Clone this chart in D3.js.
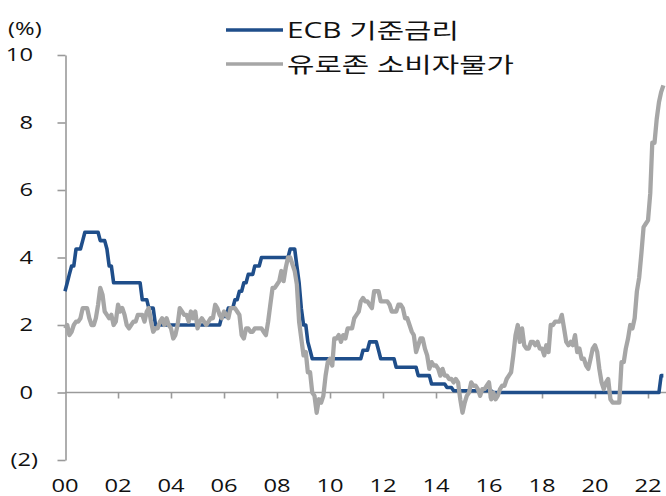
<!DOCTYPE html>
<html>
<head>
<meta charset="utf-8">
<script src="https://cdn.jsdelivr.net/npm/d3@7"></script>
<style>
  body { margin: 0; background: #fff; }
  text { font-family: "Open Sans", "Noto Sans CJK KR", sans-serif; fill: #111; }
</style>
</head>
<body>
<svg id="chart" width="666" height="496"></svg>
<script>
// monthly data, Jan 2000 - Aug 2022
const ecbRate = [
  3.0,3.25,3.5,3.75,3.75,4.25,4.25,4.25,4.5,4.75,4.75,4.75,
  4.75,4.75,4.75,4.75,4.5,4.5,4.5,4.25,3.75,3.75,3.25,3.25,
  3.25,3.25,3.25,3.25,3.25,3.25,3.25,3.25,3.25,3.25,3.25,2.75,
  2.75,2.75,2.5,2.5,2.5,2.0,2.0,2.0,2.0,2.0,2.0,2.0,
  2.0,2.0,2.0,2.0,2.0,2.0,2.0,2.0,2.0,2.0,2.0,2.0,
  2.0,2.0,2.0,2.0,2.0,2.0,2.0,2.0,2.0,2.0,2.0,2.25,
  2.25,2.25,2.5,2.5,2.5,2.75,2.75,3.0,3.0,3.25,3.25,3.5,
  3.5,3.5,3.75,3.75,3.75,4.0,4.0,4.0,4.0,4.0,4.0,4.0,
  4.0,4.0,4.0,4.0,4.0,4.0,4.25,4.25,4.25,3.75,3.25,2.5,
  2.0,2.0,1.5,1.25,1.0,1.0,1.0,1.0,1.0,1.0,1.0,1.0,
  1.0,1.0,1.0,1.0,1.0,1.0,1.0,1.0,1.0,1.0,1.0,1.0,
  1.0,1.0,1.0,1.25,1.25,1.25,1.5,1.5,1.5,1.5,1.25,1.0,
  1.0,1.0,1.0,1.0,1.0,1.0,0.75,0.75,0.75,0.75,0.75,0.75,
  0.75,0.75,0.75,0.75,0.5,0.5,0.5,0.5,0.5,0.5,0.25,0.25,
  0.25,0.25,0.25,0.25,0.25,0.15,0.15,0.15,0.05,0.05,0.05,0.05,
  0.05,0.05,0.05,0.05,0.05,0.05,0.05,0.05,0.05,0.05,0.05,0.05,
  0.05,0.05,0,0,0,0,0,0,0,0,0,0,
  0,0,0,0,0,0,0,0,0,0,0,0,
  0,0,0,0,0,0,0,0,0,0,0,0,
  0,0,0,0,0,0,0,0,0,0,0,0,
  0,0,0,0,0,0,0,0,0,0,0,0,
  0,0,0,0,0,0,0,0,0,0,0,0,
  0,0,0,0,0,0,0.5,0.5
];

const euroCpi = [
  1.9,2.0,1.7,1.8,2.0,2.1,2.1,2.2,2.5,2.5,2.5,2.2,
  2.0,2.0,2.2,2.6,3.1,2.9,2.4,2.3,2.2,2.3,2.0,2.1,
  2.6,2.4,2.5,2.3,2.0,1.9,2.0,2.1,2.1,2.3,2.3,2.3,
  2.1,2.4,2.5,2.1,1.8,1.9,1.9,2.1,2.2,2.0,2.2,2.0,
  1.9,1.6,1.7,2.0,2.5,2.4,2.3,2.3,2.1,2.4,2.2,2.4,
  1.9,2.1,2.2,2.1,2.0,2.1,2.2,2.2,2.6,2.5,2.3,2.2,
  2.4,2.3,2.2,2.5,2.5,2.5,2.4,2.3,1.7,1.6,1.9,1.9,
  1.8,1.8,1.9,1.9,1.9,1.9,1.8,1.7,2.1,2.6,3.1,3.1,
  3.2,3.3,3.6,3.3,3.7,4.0,4.0,3.8,3.6,3.2,2.1,1.6,
  1.1,1.2,0.6,0.6,0.0,-0.1,-0.6,-0.2,-0.3,-0.1,0.5,0.9,
  1.0,0.8,1.6,1.6,1.7,1.5,1.7,1.6,1.9,1.9,1.9,2.2,
  2.3,2.4,2.7,2.8,2.7,2.7,2.6,2.5,3.0,3.0,3.0,2.7,
  2.7,2.7,2.7,2.6,2.4,2.4,2.4,2.6,2.6,2.5,2.2,2.2,
  2.0,1.8,1.7,1.2,1.4,1.6,1.6,1.3,1.1,0.7,0.9,0.8,
  0.8,0.7,0.5,0.7,0.5,0.5,0.4,0.4,0.3,0.4,0.3,-0.2,
  -0.6,-0.3,-0.1,0.0,0.3,0.2,0.2,0.1,-0.1,0.1,0.1,0.2,
  0.3,-0.2,0.0,-0.2,-0.1,0.1,0.2,0.2,0.4,0.5,0.6,1.1,
  1.7,2.0,1.5,1.9,1.4,1.3,1.3,1.5,1.5,1.4,1.5,1.3,
  1.3,1.1,1.4,1.2,2.0,2.0,2.1,2.1,2.1,2.3,1.9,1.5,
  1.4,1.5,1.4,1.7,1.2,1.3,1.0,1.0,0.8,0.7,1.0,1.3,
  1.4,1.2,0.7,0.3,0.1,0.3,0.4,-0.2,-0.3,-0.3,-0.3,-0.3,
  0.9,0.9,1.3,1.6,2.0,1.9,2.2,3.0,3.4,4.1,4.9,5.0,
  5.1,5.9,7.4,7.4,8.1,8.6,8.9,9.1
];

const yTicks = [10, 8, 6, 4, 2, 0, -2];
const xTickYears = [2000,2002,2004,2006,2008,2010,2012,2014,2016,2018,2020,2022];
const seriesNames = ['ECB 기준금리', '유로존 소비자물가'];

const startMonth = new Date(2000, 0, 1);
const monthOf = i => d3.timeMonth.offset(startMonth, i);

const svg = d3.select('#chart');

const x = d3.scaleTime()
    .domain([startMonth, new Date(2022, 0, 1)])
    .range([65, 648]);

const y = d3.scaleLinear()
    .domain([-2, 10])
    .range([460, 55]);

const axisColor = '#9a9a9a';
const sx = 1.32; // stretched look of the original type

// y axis
const yAxis = svg.append('g')
    .attr('transform', 'translate(65.5,0)')
    .call(d3.axisLeft(y).tickValues(yTicks).tickSize(8).tickSizeOuter(0).tickFormat(''));
yAxis.selectAll('path, line').attr('stroke', axisColor).attr('stroke-width', 1.6);

svg.append('g').selectAll('text')
  .data(yTicks)
  .join('text')
    .attr('transform', d => `translate(${d < 0 ? 38 : 33},${y(d) + 6}) scale(${sx},1)`)
    .attr('text-anchor', 'end')
    .attr('font-size', 18)
    .text(d => d < 0 ? `(${-d})` : d);

svg.append('text')
    .attr('transform', `translate(8,35) scale(${sx},1)`)
    .attr('font-size', 18)
    .text('(%)');

// x axis at zero
svg.append('line')
    .attr('x1', 65).attr('x2', 666)
    .attr('y1', y(0)).attr('y2', y(0))
    .attr('stroke', axisColor).attr('stroke-width', 1.6);

const xAxis = svg.append('g')
    .attr('transform', `translate(0,${y(0)})`)
    .call(d3.axisBottom(x)
      .tickValues(xTickYears.slice(1).map(yr => new Date(yr, 0, 1)))
      .tickSize(6).tickSizeOuter(0).tickFormat(''));
xAxis.select('.domain').remove();
xAxis.selectAll('line').attr('stroke', axisColor).attr('stroke-width', 1.6);

svg.append('g').selectAll('text')
  .data(xTickYears)
  .join('text')
    .attr('transform', d => `translate(${x(new Date(d, 0, 1))},492) scale(${sx},1)`)
    .attr('text-anchor', 'middle')
    .attr('font-size', 18)
    .text(d => String(d % 100).padStart(2, '0'));

// lines
const line = d3.line()
    .x((d, i) => x(monthOf(i)))
    .y(d => y(d));

svg.append('path')
    .datum(ecbRate)
    .attr('fill', 'none')
    .attr('stroke', '#1f4e8a')
    .attr('stroke-width', 3.6)
    .attr('stroke-linejoin', 'round')
    .attr('d', line);

svg.append('path')
    .datum(euroCpi)
    .attr('fill', 'none')
    .attr('stroke', '#a6a6a6')
    .attr('stroke-width', 4.3)
    .attr('stroke-linejoin', 'round')
    .attr('d', line);

// legend
const legendColors = ['#1f4e8a', '#a6a6a6'];
const legend = svg.append('g').selectAll('g')
  .data(seriesNames)
  .join('g')
    .attr('transform', (d, i) => `translate(226,${30 + i * 34})`);

legend.append('line')
    .attr('x1', 0).attr('x2', 57)
    .attr('stroke', (d, i) => legendColors[i])
    .attr('stroke-width', 3.6);

legend.append('text')
    .attr('transform', `translate(61,8) scale(1.42,1)`)
    .attr('font-size', 21)
    .text(d => d);
</script>
</body>
</html>
